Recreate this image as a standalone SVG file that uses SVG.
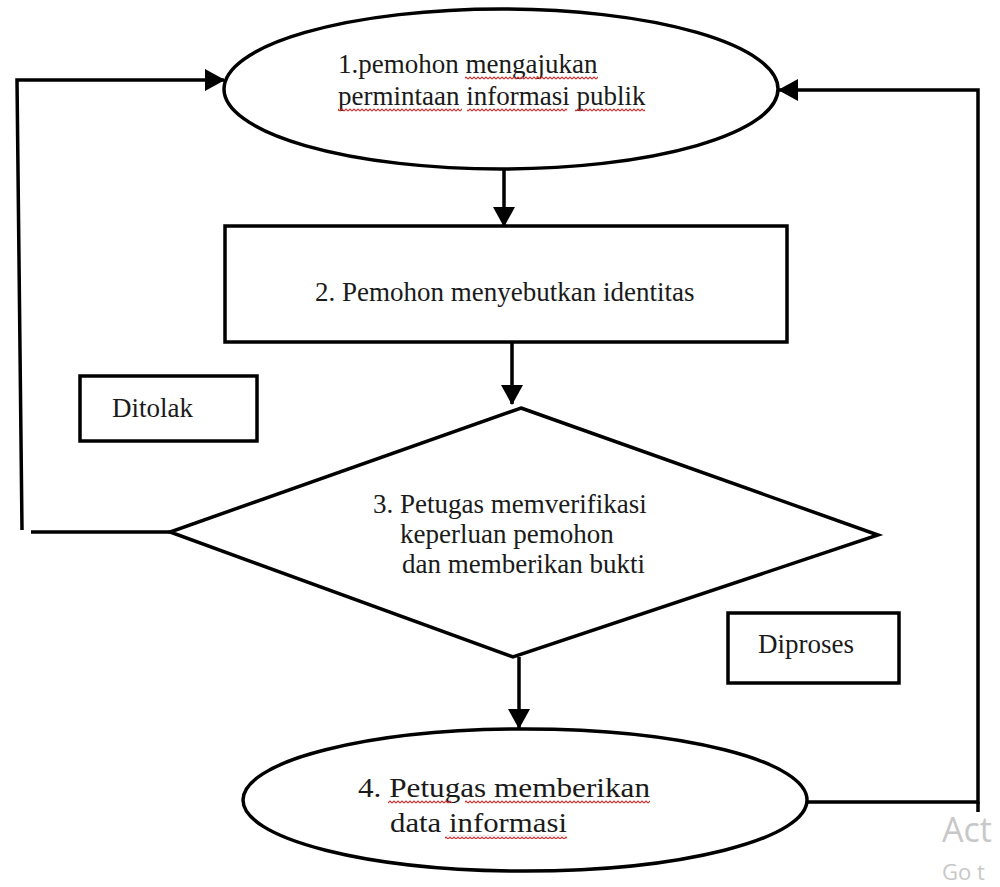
<svg xmlns="http://www.w3.org/2000/svg" width="1000" height="887" viewBox="0 0 1000 887">
  <style>
    .shape { fill: #ffffff; stroke: #000000; stroke-width: 3.5; }
    .line { fill: none; stroke: #000000; stroke-width: 3.5; }
    .txt { font-family: "Liberation Serif", "Times New Roman", serif; font-size: 27px; fill: #1a1a1a; }
    .wm { font-family: "Open Sans", "Noto Sans", sans-serif; fill: #c8c8c8; }
  </style>
  <defs>
    <marker id="arr" viewBox="0 0 20 22" refX="19" refY="11" markerWidth="20" markerHeight="22" markerUnits="userSpaceOnUse" orient="auto">
      <path d="M0,0 L20,11 L0,22 Z" fill="#000000"/>
    </marker>
    <pattern id="wave" x="0" y="0" width="4" height="4" patternUnits="userSpaceOnUse">
      <path d="M0,3 L2,1 L4,3" fill="none" stroke="#d03030" stroke-width="1.1"/>
    </pattern>
  </defs>

  <g id="connectors">
    <polyline class="line" points="22,530 17,80 224,80" marker-end="url(#arr)"/>
    <line class="line" x1="31" y1="532" x2="170" y2="532"/>
    <polyline class="line" points="807,802 978,802 978,90 779,90" marker-end="url(#arr)"/>
    <line class="line" x1="978" y1="802" x2="978" y2="812"/>
    <line class="line" x1="504" y1="169" x2="504" y2="226" marker-end="url(#arr)"/>
    <line class="line" x1="512" y1="342" x2="512" y2="404" marker-end="url(#arr)"/>
    <line class="line" x1="519" y1="657" x2="519" y2="728" marker-end="url(#arr)"/>
  </g>

  <g id="node1">
    <ellipse class="shape" cx="501" cy="89" rx="277" ry="80"/>
    <text class="txt" x="338" y="73">1.pemohon mengajukan</text>
    <text class="txt" x="338" y="105">permintaan informasi publik</text>
    <rect x="465" y="76" width="133" height="4" fill="url(#wave)"/>
    <rect x="338" y="108" width="124" height="4" fill="url(#wave)"/>
    <rect x="467" y="108" width="100" height="4" fill="url(#wave)"/>
    <rect x="575" y="108" width="70" height="4" fill="url(#wave)"/>
  </g>

  <g id="node2">
    <rect class="shape" x="225" y="226" width="562" height="116"/>
    <text class="txt" x="315" y="301">2. Pemohon menyebutkan identitas</text>
  </g>

  <g id="node3">
    <polygon class="shape" points="521,408 878,535 513,657 170,532"/>
    <text class="txt" x="373" y="513">3. Petugas memverifikasi</text>
    <text class="txt" x="400" y="543">keperluan pemohon</text>
    <text class="txt" x="402" y="573">dan memberikan bukti</text>
  </g>

  <g id="node4">
    <ellipse class="shape" cx="525" cy="800" rx="282" ry="71"/>
    <text class="txt" x="358" y="797" textLength="292" lengthAdjust="spacingAndGlyphs">4. Petugas memberikan</text>
    <text class="txt" x="390" y="832" textLength="177" lengthAdjust="spacingAndGlyphs">data informasi</text>
    <rect x="388" y="800" width="64" height="4" fill="url(#wave)"/>
    <rect x="465" y="800" width="185" height="4" fill="url(#wave)"/>
    <rect x="445" y="835" width="122" height="4" fill="url(#wave)"/>
  </g>

  <g id="ditolak">
    <rect class="shape" x="80" y="376" width="177" height="65"/>
    <text class="txt" x="112" y="417">Ditolak</text>
  </g>

  <g id="diproses">
    <rect class="shape" x="728" y="613" width="171" height="70"/>
    <text class="txt" x="758" y="653">Diproses</text>
  </g>

  <g id="watermark">
    <text class="wm" x="942" y="842" font-size="34">Act</text>
    <text class="wm" x="942" y="880" font-size="22">Go t</text>
  </g>
</svg>
